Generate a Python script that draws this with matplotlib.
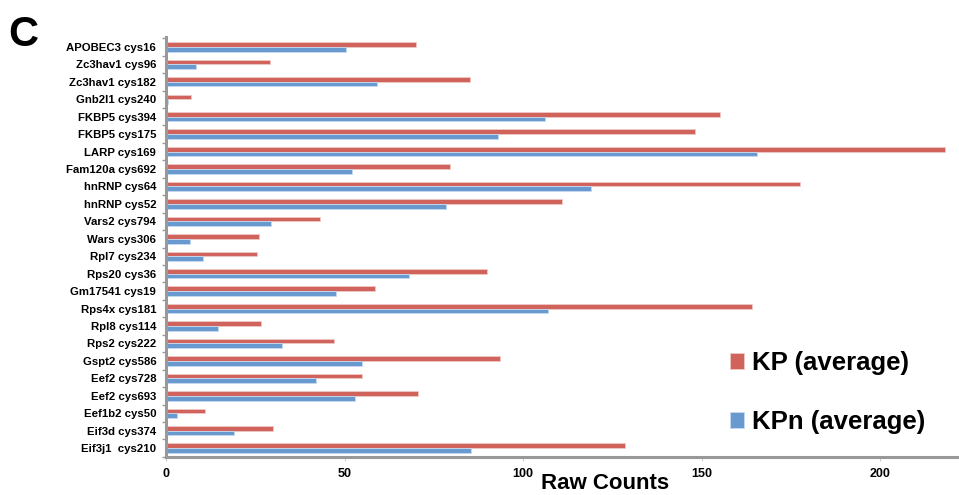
import matplotlib
matplotlib.use('Agg')
import matplotlib.pyplot as plt
import numpy as np

plt.rcParams['font.family'] = ['Liberation Sans', 'DejaVu Sans']
plt.rcParams['font.weight'] = 'bold'

# sites, top to bottom as drawn
sites = ['APOBEC3 cys16', 'Zc3hav1 cys96', 'Zc3hav1 cys182', 'Gnb2l1 cys240',
         'FKBP5 cys394', 'FKBP5 cys175', 'LARP cys169', 'Fam120a cys692',
         'hnRNP cys64', 'hnRNP cys52', 'Vars2 cys794', 'Wars cys306',
         'Rpl7 cys234', 'Rps20 cys36', 'Gm17541 cys19', 'Rps4x cys181',
         'Rpl8 cys114', 'Rps2 cys222', 'Gspt2 cys586', 'Eef2 cys728',
         'Eef2 cys693', 'Eef1b2 cys50', 'Eif3d cys374', 'Eif3j1  cys210']
kp_avg = [70, 29, 85, 7, 155, 148, 218, 79.5, 177.5, 111, 43, 26,
          25.5, 90, 58.5, 164, 26.5, 47, 93.5, 55, 70.5, 11, 30, 128.5]
kpn_avg = [50.5, 8.5, 59, 0.6, 106, 93, 165.5, 52, 119, 78.5, 29.5, 6.8,
           10.5, 68, 47.5, 107, 14.5, 32.5, 55, 42, 53, 3, 19, 85.5]

RED = '#D0635B'
BLUE = '#6899CF'

fig = plt.figure(figsize=(9.59, 4.95), dpi=100)
ax = fig.add_axes([0.173, 0.077, 0.827, 0.848])

n = len(sites)
pos = np.arange(n)[::-1]
h = 0.27
ax.barh(pos + h / 2, kp_avg, height=h, color=RED, label='KP (average)',
        edgecolor='#F0C8C6', linewidth=0.6)
ax.barh(pos - h / 2, kpn_avg, height=h, color=BLUE, label='KPn (average)',
        edgecolor='#C8DAF0', linewidth=0.6)

ax.set_xlim(0, 222)
ax.set_ylim(-0.44, n - 0.44)
ax.set_yticks(pos)
ax.set_yticklabels(sites, fontsize=8.2, fontweight='bold')
ax.set_yticks(np.arange(n + 1) - 0.5, minor=True)
ax.tick_params(axis='y', which='major', length=0, pad=7)
ax.tick_params(axis='y', which='minor', length=3, color='#999999', width=1)
ax.set_xticks([0, 50, 100, 150, 200])
ax.tick_params(axis='x', length=3, color='#CCCCCC', labelsize=9, pad=5)
for lab in ax.get_xticklabels():
    lab.set_fontweight('bold')

for side in ['top', 'right']:
    ax.spines[side].set_visible(False)
for side in ['left', 'bottom']:
    ax.spines[side].set_color('#999999')
    ax.spines[side].set_linewidth(2.2)

# axis title sits right at the bottom edge, as in the original figure panel
fig.text(0.631, 0.012, 'Raw Counts', fontsize=16, fontweight='bold',
         ha='center', va='baseline')

ax.legend(loc='lower left', bbox_to_anchor=(0.682, 0.0), frameon=False,
          handlelength=0.55, handleheight=0.6, handletextpad=0.3,
          labelspacing=1.35, prop={'weight': 'bold', 'size': 18.5})

fig.text(0.009, 0.97, 'C', fontsize=30, fontweight='bold', va='top', ha='left')

plt.savefig('out.png', dpi=100)
